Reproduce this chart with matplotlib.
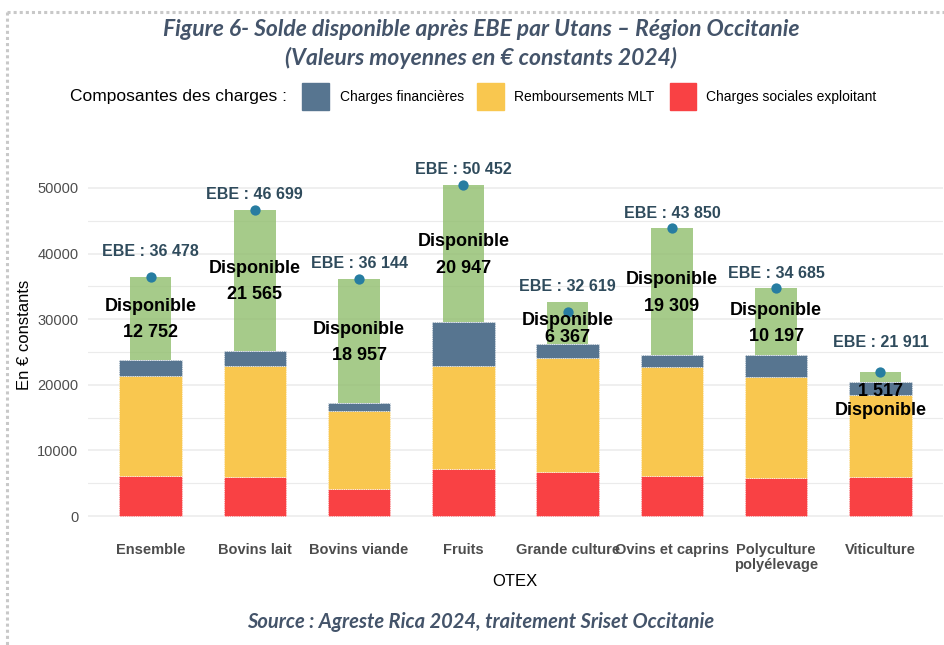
import matplotlib
matplotlib.use("Agg")
import matplotlib.pyplot as plt
from matplotlib.patches import Rectangle
from matplotlib.lines import Line2D

# Données
otex = ["Ensemble", "Bovins lait", "Bovins viande", "Fruits", "Grande culture",
        "Ovins et caprins", "Polyculture\npolyélevage", "Viticulture"]
ebe = [36478, 46699, 36144, 50452, 32619, 43850, 34685, 21911]
ebe_point = [36478, 46699, 36144, 50452, 31100, 43850, 34685, 21911]
disponible = [12752, 21565, 18957, 20947, 6367, 19309, 10197, 1517]
charges_sociales = [6100, 5900, 4160, 7120, 6700, 6100, 5750, 5950]
remboursements_mlt = [15240, 17000, 11840, 15750, 17390, 16570, 15440, 12550]
charges_fin = [2386, 2234, 1187, 6635, 2162, 1871, 3298, 1894]

legend_labels = ["Charges financières", "Remboursements MLT", "Charges sociales exploitant"]

C_FIN = "#577590"
C_MLT = "#f9c74f"
C_SOC = "#f94144"
C_DISPO = "#90be6d"
C_DOT = "#277da1"
C_EBE = "#2f4b5c"
C_TITLE = "#44546a"

W, H = 945, 645


def fx(px):
    return px / W


def fy(py):
    return 1 - py / H


def fmt(v):
    return f"{v:,}".replace(",", " ")


plt.rcParams["font.family"] = ["Liberation Sans", "DejaVu Sans"]

fig = plt.figure(figsize=(W / 100, H / 100), dpi=100)
ax = fig.add_axes([fx(88), fy(526), fx(943) - fx(88), fy(158) - fy(526)])

x = list(range(len(otex)))
bottom = [0] * len(otex)
for vals, col in [(charges_sociales, C_SOC), (remboursements_mlt, C_MLT), (charges_fin, C_FIN)]:
    ax.bar(x, vals, width=0.6, bottom=bottom, color=col, edgecolor="white",
           linewidth=0.6, linestyle=":", zorder=3)
    bottom = [b + v for b, v in zip(bottom, vals)]

ax.bar(x, disponible, width=0.4, bottom=bottom, color=C_DISPO, alpha=0.8,
       linewidth=0, zorder=3)

ax.scatter(x, ebe_point, s=55, color=C_DOT, zorder=5, linewidths=0)

# étiquettes EBE (décalage en points, repoussées comme dans l'original)
ebe_off = {0: 18.5, 7: 21.5}
for i, v in enumerate(ebe):
    ax.annotate(f"EBE : {fmt(v)}", (i, v), xytext=(0, ebe_off.get(i, 11)),
                textcoords="offset points", ha="center", va="center",
                fontsize=11.5, fontweight="bold", color=C_EBE, zorder=6)

# étiquettes Disponible
word_off = {4: 2, 7: -24}
for i, d in enumerate(disponible):
    mid = bottom[i] + d / 2
    ax.annotate(fmt(d), (i, mid), xytext=(0, -10.4), textcoords="offset points",
                ha="center", va="center", fontsize=13, fontweight="bold",
                color="black", zorder=6)
    ax.annotate("Disponible", (i, mid), xytext=(0, word_off.get(i, 8.5)),
                textcoords="offset points", ha="center", va="center",
                fontsize=13, fontweight="bold", color="black", zorder=6)

ax.set_xlim(-0.6, len(otex) - 0.4)
ax.set_ylim(-1524, 54573)
ax.set_yticks([0, 10000, 20000, 30000, 40000, 50000])
ax.set_yticks([5000, 15000, 25000, 35000, 45000], minor=True)
ax.set_xticks(x)
ax.set_xticklabels(otex, fontsize=10.5, fontweight="bold", color="#4d4d4d",
                   linespacing=1.1)
ax.tick_params(axis="y", length=0, pad=7, labelsize=10.5, labelcolor="#4d4d4d")
ax.tick_params(axis="y", which="minor", length=0)
ax.tick_params(axis="x", length=0, pad=12)
ax.grid(axis="y", which="major", color="#ebebeb", linewidth=1.1, zorder=0)
ax.grid(axis="y", which="minor", color="#ebebeb", linewidth=0.8, zorder=0)
ax.grid(axis="x", visible=False)
for s in ax.spines.values():
    s.set_visible(False)

# titres et axes
fig.text(fx(481), fy(30), "Figure 6- Solde disponible après EBE par Utans – Région Occitanie",
         ha="center", va="center", fontsize=16.5, family="Lato", style="italic",
         fontweight="bold", color=C_TITLE)
fig.text(fx(481), fy(58), "(Valeurs moyennes en € constants 2024)",
         ha="center", va="center", fontsize=16.5, family="Lato", style="italic",
         fontweight="bold", color=C_TITLE)
fig.text(fx(481), fy(622), "Source : Agreste Rica 2024, traitement Sriset Occitanie",
         ha="center", va="center", fontsize=14.5, family="Lato", style="italic",
         fontweight="bold", color=C_TITLE)
fig.text(fx(515), fy(581), "OTEX", ha="center", va="center", fontsize=12)
fig.text(fx(25), fy(335), "En € constants", ha="center", va="center",
         fontsize=12, rotation=90)

# légende
fig.text(fx(70), fy(97), "Composantes des charges :", ha="left", va="center", fontsize=12.5)
for (x0, x1, lx), col, lab in zip([(302, 329, 340), (477, 504, 514), (670, 696, 706)],
                                  [C_FIN, C_MLT, C_SOC], legend_labels):
    fig.patches.append(Rectangle((fx(x0), fy(110)), fx(x1) - fx(x0), fy(83) - fy(110),
                                 transform=fig.transFigure, color=col, figure=fig))
    fig.text(fx(lx), fy(97), lab, ha="left", va="center", fontsize=10)

# cadre pointillé
fig.lines.append(Line2D([fx(7), fx(7)], [fy(12), 0], transform=fig.transFigure,
                        color="#c8c8c8", linewidth=2.2, linestyle=(0, (1, 1)), figure=fig))
fig.lines.append(Line2D([fx(7), 1], [fy(12), fy(12)], transform=fig.transFigure,
                        color="#c8c8c8", linewidth=2.2, linestyle=(0, (1, 1)), figure=fig))

fig.savefig("out.png", dpi=100)
